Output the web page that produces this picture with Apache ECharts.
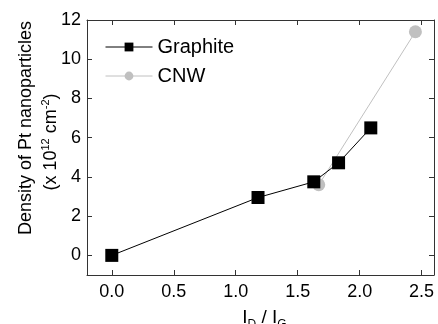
<!DOCTYPE html>
<html><head><meta charset="utf-8">
<script src="https://cdn.jsdelivr.net/npm/echarts@6/dist/echarts.min.js"></script>
<style>html,body{margin:0;padding:0;background:#fff}#c{width:438px;height:324px}</style>
</head><body><div id="c"></div>
<script>
const graphiteX = [0, 1.18, 1.63, 1.83, 2.09];
const graphiteY = [0, 2.95, 3.75, 4.72, 6.5];
const cnwX = [1.67, 2.45];
const cnwY = [3.6, 11.4];
const xTicks = [0, 0.5, 1.0, 1.5, 2.0, 2.5];
const yTicks = [0, 2, 4, 6, 8, 10, 12];
const seriesNames = ['Graphite', 'CNW'];

const F = 'Liberation Sans, Arial, sans-serif';
const axisCol = '#333';
const chart = echarts.init(document.getElementById('c'));
const xFmt = v => Number(v).toFixed(1);
chart.setOption({
  animation: false,
  grid: {left: 87, right: 4, top: 20, bottom: 49, outerBoundsMode: 'none', containLabel: false},
  legend: {
    orient: 'vertical', left: 100, top: 32, itemWidth: 47, itemHeight: 11, itemGap: 9,
    lineStyle: {width: 1},
    textStyle: {fontFamily: F, fontSize: 20, color: '#000', padding: [0,0,0,0]},
    data: seriesNames
  },
  xAxis: [{
    type: 'value', min: -0.2, max: 2.6,
    axisLine: {show: true, onZero: false, lineStyle: {color: axisCol}},
    axisTick: {inside: true, length: 5, customValues: xTicks, lineStyle: {color: axisCol}},
    axisLabel: {customValues: xTicks, formatter: xFmt, fontFamily: F, fontSize: 18, color: '#000', margin: 8},
    splitLine: {show: false},
    name: '{p|}I{sub|D} / I{sub|G}', nameLocation: 'middle', nameGap: 30, nameMoveOverlap: false,
    nameTextStyle: {fontFamily: F, fontSize: 19, color: '#000',
      rich: {p: {width: 8}, sub: {fontFamily: F, fontSize: 12, color: '#000', padding: [14, 0, 0, 0]}}}
  }, {
    type: 'value', position: 'top', min: -0.2, max: 2.6,
    axisLine: {show: true, onZero: false, lineStyle: {color: axisCol}},
    axisTick: {inside: true, length: 5, customValues: xTicks, lineStyle: {color: axisCol}},
    axisLabel: {show: false}, splitLine: {show: false}
  }],
  yAxis: [{
    type: 'value', min: -1, max: 12,
    axisLine: {show: true, onZero: false, lineStyle: {color: axisCol}},
    axisTick: {inside: true, length: 5, customValues: yTicks, lineStyle: {color: axisCol}},
    axisLabel: {customValues: yTicks, fontFamily: F, fontSize: 18, color: '#000', margin: 6},
    splitLine: {show: false},
    name: '{p1|}Density of Pt nanoparticles\n{p2|}(x 10{sup|12} cm{sup|-2})', nameLocation: 'middle', nameGap: 23, nameRotate: 90, nameMoveOverlap: false,
    nameTextStyle: {fontFamily: F, fontSize: 18, color: '#000', lineHeight: 25, align: 'center',
      rich: {p1: {width: 39}, p2: {width: 11}, sup: {fontFamily: F, fontSize: 11, color: '#000', padding: [0, 0, 12, 0]}}}
  }, {
    type: 'value', position: 'right', min: -1, max: 12,
    axisLine: {show: true, onZero: false, lineStyle: {color: axisCol}},
    axisTick: {inside: true, length: 5, customValues: yTicks, lineStyle: {color: axisCol}},
    axisLabel: {show: false}, splitLine: {show: false}
  }],
  series: [{
    name: seriesNames[1], type: 'line', z: 2,
    data: cnwX.map((x, i) => [x, cnwY[i]]),
    symbol: 'circle', symbolSize: 13,
    lineStyle: {color: '#c0c0c0', width: 1},
    itemStyle: {color: '#c0c0c0'}
  }, {
    name: seriesNames[0], type: 'line', z: 3,
    data: graphiteX.map((x, i) => [x, graphiteY[i]]),
    symbol: 'rect', symbolSize: 13,
    lineStyle: {color: '#000', width: 1},
    itemStyle: {color: '#000'}
  }]
});
</script></body></html>
